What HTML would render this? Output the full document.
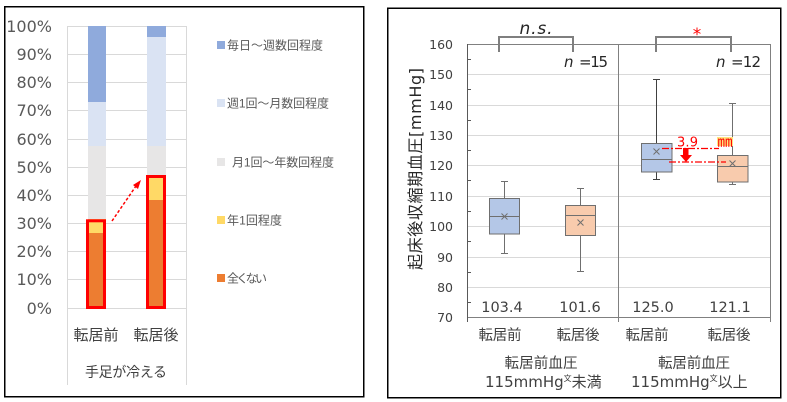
<!DOCTYPE html>
<html><head><meta charset="utf-8"><style>
html,body{margin:0;padding:0;background:#fff;}
svg{display:block;}
.j{font-family:"Liberation Sans","Noto Sans CJK JP",sans-serif;}
.d{font-family:"DejaVu Sans","Liberation Sans",sans-serif;}
.dj{font-family:"DejaVu Sans","Noto Sans CJK JP",sans-serif;}
</style></head><body>
<svg width="787" height="402" viewBox="0 0 787 402" xmlns="http://www.w3.org/2000/svg">
<rect x="0" y="0" width="787" height="402" fill="#fff"/>
<!-- LEFT PANEL -->
<rect x="4.75" y="6.75" width="359" height="390" fill="#fff" stroke="#000" stroke-width="1.5"/>
<g stroke="#d9d9d9" stroke-width="1">
<line x1="67" y1="26.5" x2="186" y2="26.5"/>
<line x1="67" y1="54.5" x2="186" y2="54.5"/>
<line x1="67" y1="82.5" x2="186" y2="82.5"/>
<line x1="67" y1="110.5" x2="186" y2="110.5"/>
<line x1="67" y1="139.5" x2="186" y2="139.5"/>
<line x1="67" y1="167.5" x2="186" y2="167.5"/>
<line x1="67" y1="195.5" x2="186" y2="195.5"/>
<line x1="67" y1="223.5" x2="186" y2="223.5"/>
<line x1="67" y1="251.5" x2="186" y2="251.5"/>
<line x1="67" y1="279.5" x2="186" y2="279.5"/>
<line x1="67" y1="308.5" x2="186" y2="308.5"/>
<line x1="67.5" y1="26" x2="67.5" y2="385"/>
<line x1="186.5" y1="26" x2="186.5" y2="385"/>
</g>
<g class="d" font-size="16" fill="#595959" text-anchor="end">
<text x="52" y="32">100%</text>
<text x="52" y="60">90%</text>
<text x="52" y="88">80%</text>
<text x="52" y="116">70%</text>
<text x="52" y="145">60%</text>
<text x="52" y="173">50%</text>
<text x="52" y="201">40%</text>
<text x="52" y="229">30%</text>
<text x="52" y="257">20%</text>
<text x="52" y="285">10%</text>
<text x="52" y="314">0%</text>
</g>
<!-- bar1 -->
<rect x="88" y="26" width="18" height="76" fill="#8faadc"/>
<rect x="88" y="102" width="18" height="44" fill="#dae3f3"/>
<rect x="88" y="146" width="18" height="73" fill="#e7e6e6"/>
<rect x="88" y="219" width="18" height="14" fill="#ffd966"/>
<rect x="88" y="233" width="18" height="75" fill="#ed7d31"/>
<rect x="87.5" y="220.8" width="17" height="86.7" fill="none" stroke="#ff0000" stroke-width="3"/>
<!-- bar2 -->
<rect x="147" y="26" width="19" height="11" fill="#8faadc"/>
<rect x="147" y="37" width="19" height="109" fill="#dae3f3"/>
<rect x="147" y="146" width="19" height="30" fill="#e7e6e6"/>
<rect x="147" y="176" width="19" height="24" fill="#ffd966"/>
<rect x="147" y="200" width="19" height="108" fill="#ed7d31"/>
<rect x="147.5" y="176.5" width="17" height="131" fill="none" stroke="#ff0000" stroke-width="3"/>
<!-- arrow -->
<line x1="112" y1="221" x2="136" y2="186" stroke="#ff0000" stroke-width="1.5" stroke-dasharray="3,2"/>
<polygon points="141,180 133,185 138,189" fill="#ff0000"/>
<!-- x labels -->
<g class="j" fill="#404040">
<text x="96" y="340" font-size="15" text-anchor="middle" textLength="45">転居前</text>
<text x="156" y="340" font-size="15" text-anchor="middle" textLength="45">転居後</text>
<text x="126" y="377" font-size="14" text-anchor="middle" textLength="82">手足が冷える</text>
</g>
<!-- legend -->
<rect x="217" y="41" width="8" height="8" fill="#8faadc"/>
<rect x="217" y="99" width="8" height="8" fill="#dae3f3"/>
<rect x="217" y="158" width="8" height="8" fill="#e7e6e6"/>
<rect x="217" y="216" width="8" height="8" fill="#ffd966"/>
<rect x="217" y="274" width="8" height="8" fill="#ed7d31"/>
<g class="j" font-size="12" fill="#595959">
<text x="227" y="49.5" textLength="96">毎日～週数回程度</text>
<text x="227" y="107.5" textLength="102">週1回～月数回程度</text>
<text x="232" y="166.5" textLength="102">月1回～年数回程度</text>
<text x="227" y="224.5" textLength="55">年1回程度</text>
<text x="227" y="282.5" textLength="40">全くない</text>
</g>

<!-- RIGHT PANEL -->
<rect x="387.75" y="8.25" width="393" height="389.5" fill="#fff" stroke="#000" stroke-width="1.5"/>
<g stroke="#d9d9d9" stroke-width="1">
<line x1="467" y1="74.5" x2="770" y2="74.5"/>
<line x1="467" y1="105.5" x2="770" y2="105.5"/>
<line x1="467" y1="135.5" x2="770" y2="135.5"/>
<line x1="467" y1="165.5" x2="770" y2="165.5"/>
<line x1="467" y1="196.5" x2="770" y2="196.5"/>
<line x1="467" y1="226.5" x2="770" y2="226.5"/>
<line x1="467" y1="257.5" x2="770" y2="257.5"/>
<line x1="467" y1="287.5" x2="770" y2="287.5"/>
</g>
<g stroke="#808080" stroke-width="1">
<line x1="467" y1="44.5" x2="770" y2="44.5"/>
<line x1="770.5" y1="44" x2="770.5" y2="322"/>
<line x1="618.5" y1="44" x2="618.5" y2="322"/>
<line x1="467" y1="317.5" x2="770" y2="317.5"/>
</g>
<line x1="467.5" y1="44" x2="467.5" y2="322" stroke="#595959" stroke-width="1"/>
<g stroke="#595959" stroke-width="1">
<line x1="467" y1="59.5" x2="471" y2="59.5"/>
<line x1="467" y1="89.5" x2="471" y2="89.5"/>
<line x1="467" y1="120.5" x2="471" y2="120.5"/>
<line x1="467" y1="150.5" x2="471" y2="150.5"/>
<line x1="467" y1="180.5" x2="471" y2="180.5"/>
<line x1="467" y1="211.5" x2="471" y2="211.5"/>
<line x1="467" y1="241.5" x2="471" y2="241.5"/>
<line x1="467" y1="272.5" x2="471" y2="272.5"/>
<line x1="467" y1="302.5" x2="471" y2="302.5"/>
</g>
<g class="d" font-size="12.5" fill="#404040" text-anchor="end">
<text x="453" y="49">160</text>
<text x="453" y="79">150</text>
<text x="453" y="110">140</text>
<text x="453" y="140">130</text>
<text x="453" y="170">120</text>
<text x="453" y="201">110</text>
<text x="453" y="231">100</text>
<text x="453" y="262">90</text>
<text x="453" y="292">80</text>
<text x="453" y="322">70</text>
</g>
<text class="dj" transform="translate(421,169) rotate(-90)" font-size="16" fill="#262626" text-anchor="middle" textLength="202">起床後収縮期血圧[mmHg]</text>

<!-- boxes -->
<g stroke="#6f6f6f" stroke-width="1" fill="none">
<line x1="504.5" y1="181" x2="504.5" y2="198"/><line x1="501" y1="181.5" x2="508" y2="181.5"/>
<line x1="504.5" y1="234" x2="504.5" y2="253"/><line x1="501" y1="253.5" x2="508" y2="253.5"/>
<rect x="489.5" y="198.5" width="30" height="35.5" fill="#b4c7e7"/>
<line x1="489.5" y1="216.5" x2="519.5" y2="216.5"/>
<path d="M501.5 213.5 L507.5 219.5 M507.5 213.5 L501.5 219.5"/>
<line x1="580.5" y1="188" x2="580.5" y2="205"/><line x1="577" y1="188.5" x2="584" y2="188.5"/>
<line x1="580.5" y1="235" x2="580.5" y2="271"/><line x1="577" y1="271.5" x2="584" y2="271.5"/>
<rect x="565.5" y="205.5" width="30" height="30" fill="#f8cbad"/>
<line x1="565.5" y1="215.5" x2="595.5" y2="215.5"/>
<path d="M577.5 219.5 L583.5 225.5 M583.5 219.5 L577.5 225.5"/>
<line x1="656.5" y1="79" x2="656.5" y2="143" stroke="#404040"/><line x1="653" y1="79.5" x2="660" y2="79.5" stroke="#404040"/>
<line x1="656.5" y1="172" x2="656.5" y2="179" stroke="#404040"/><line x1="653" y1="179.5" x2="660" y2="179.5" stroke="#404040"/>
<rect x="641.5" y="143.5" width="30.5" height="28.5" fill="#b4c7e7"/>
<line x1="641.5" y1="159.5" x2="672" y2="159.5"/>
<path d="M653.5 148.5 L659.5 154.5 M659.5 148.5 L653.5 154.5"/>
<line x1="732.5" y1="103" x2="732.5" y2="155"/><line x1="729" y1="103.5" x2="736" y2="103.5"/>
<line x1="732.5" y1="182" x2="732.5" y2="184"/><line x1="729" y1="184.5" x2="736" y2="184.5"/>
<rect x="717.5" y="155.5" width="30.5" height="26.5" fill="#f8cbad"/>
<line x1="717.5" y1="166.5" x2="748" y2="166.5"/>
<path d="M729.5 160.5 L735.5 166.5 M735.5 160.5 L729.5 166.5"/>
</g>

<!-- red annotation -->
<g stroke="#ff0000" stroke-width="1.3" stroke-dasharray="7,2,2,2">
<line x1="662" y1="148.5" x2="719" y2="148.5"/>
<line x1="669" y1="162" x2="726" y2="162"/>
</g>
<rect x="683" y="148" width="5.5" height="8" fill="#ff0000"/>
<polygon points="680,155 692,155 686,162" fill="#ff0000"/>
<text class="d" x="687.5" y="146.5" font-size="13" fill="#ff0000" text-anchor="middle" textLength="21">3.9</text>
<rect x="717" y="137" width="16" height="9" fill="#ffe680"/>
<text class="j" x="725" y="146.5" font-size="15" fill="#ff0000" text-anchor="middle">㎜</text>

<!-- brackets -->
<g stroke="#7f7f7f" stroke-width="2" fill="none">
<path d="M499 52 L499 37 L573 37 L573 52"/>
<path d="M656 52 L656 37 L731 37 L731 52"/>
</g>
<text class="d" x="536" y="34" font-size="17" font-style="italic" fill="#262626" text-anchor="middle" textLength="33">n.s.</text>
<text class="d" x="697" y="40" font-size="17" fill="#ff0000" text-anchor="middle">*</text>

<g class="d" font-size="15" fill="#262626">
<text x="564" y="67" font-style="italic">n</text>
<text x="579" y="67" textLength="29">=15</text>
<text x="716" y="67" font-style="italic">n</text>
<text x="731" y="67" textLength="30">=12</text>
</g>

<!-- values -->
<g class="d" font-size="14.5" fill="#404040" text-anchor="middle">
<text x="502" y="312">103.4</text>
<text x="580" y="312">101.6</text>
<text x="653" y="312">125.0</text>
<text x="730" y="312">121.1</text>
</g>
<!-- x labels -->
<g class="j" font-size="14.5" fill="#404040" text-anchor="middle">
<text x="500" y="340" textLength="43">転居前</text>
<text x="578" y="340" textLength="43">転居後</text>
<text x="647" y="340" textLength="43">転居前</text>
<text x="729" y="340" textLength="43">転居後</text>
<text x="541" y="368" textLength="73">転居前血圧</text>
<text x="694" y="368" textLength="72">転居前血圧</text>
</g>
<g class="dj" font-size="15" fill="#404040">
<text x="485" y="387">115mmHg<tspan font-size="8" dy="-6">文</tspan><tspan dy="6">未満</tspan></text>
<text x="631" y="387">115mmHg<tspan font-size="8" dy="-6">文</tspan><tspan dy="6">以上</tspan></text>
</g>
</svg>
</body></html>
